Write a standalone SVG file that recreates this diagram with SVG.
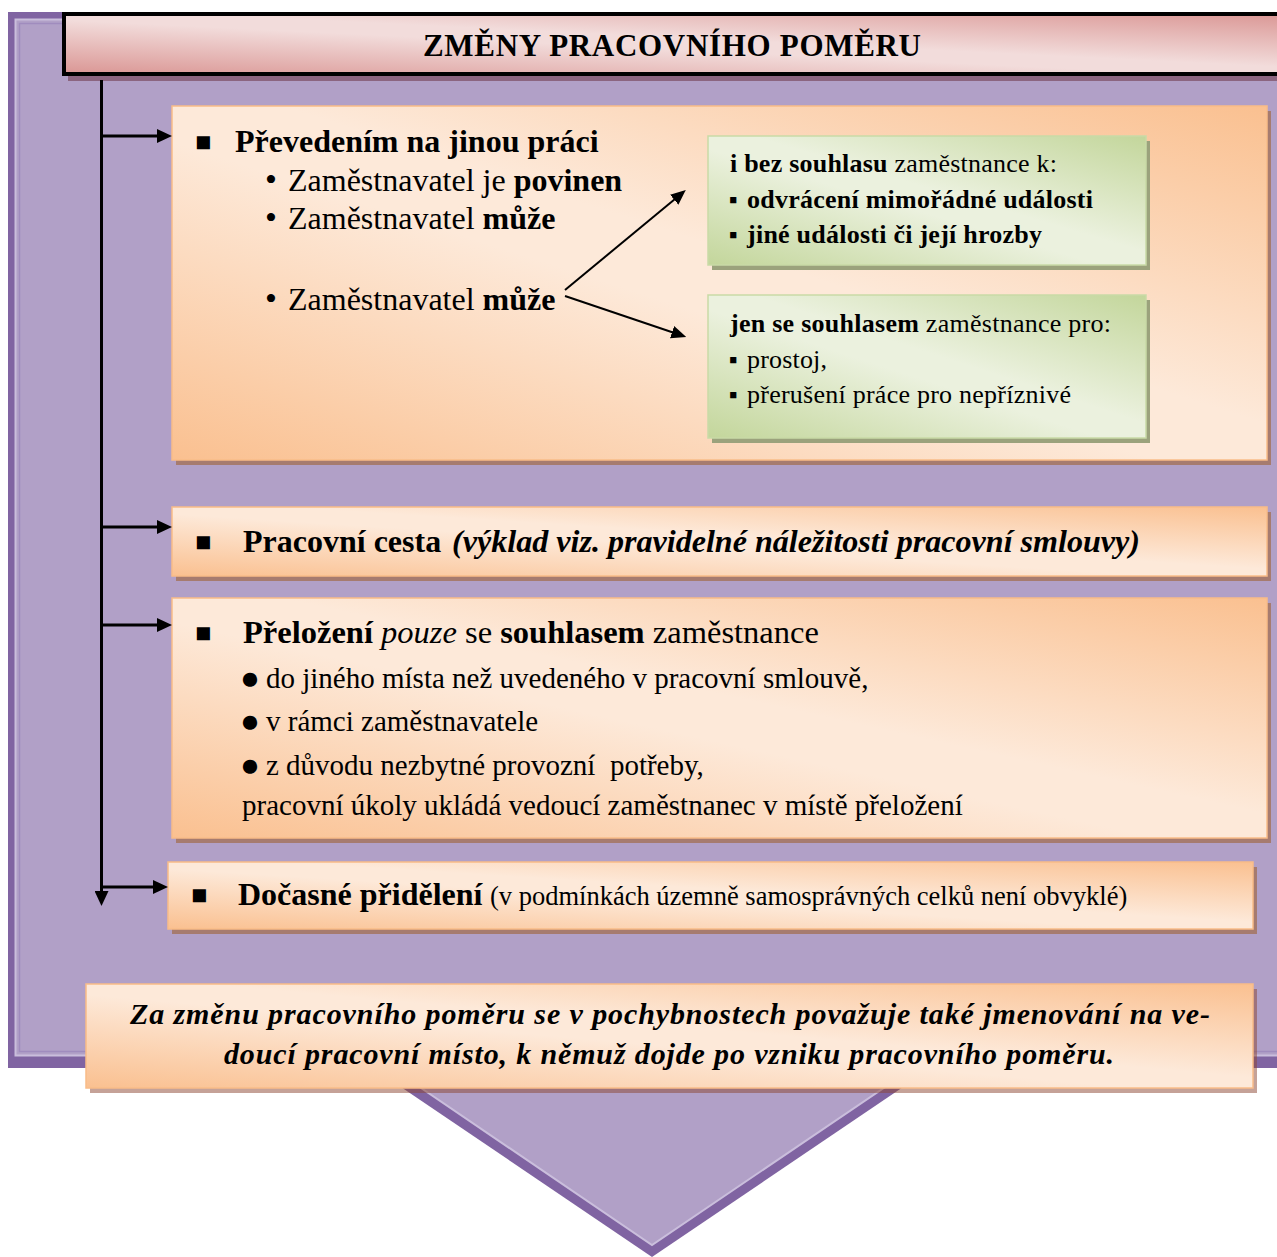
<svg xmlns="http://www.w3.org/2000/svg" width="1277" height="1257" viewBox="0 0 1277 1257">
<style>
.t{font-family:"Liberation Serif","Times New Roman",serif;fill:#000}
.b{font-weight:bold}
.i{font-style:italic}
.sq{font-family:"Liberation Serif","Times New Roman",serif;fill:#000;font-size:27px}
.sm{font-family:"Liberation Serif","Times New Roman",serif;fill:#000;font-size:25px}
.conn{stroke:#000;stroke-width:3;fill:none}
.diag{stroke:#000;stroke-width:2;fill:none}
.peach{fill:url(#gPeach);stroke:#F9BC88;stroke-width:1.5}
.psh{fill:#A67B6F}
.green{fill:url(#gGreen);stroke:#C9DAA6;stroke-width:1.5}
.gsh{fill:#9BA27C}
</style>
<defs>
<linearGradient id="gPeach" x1="0" y1="1" x2="1" y2="0">
<stop offset="0" stop-color="#FAC090"/><stop offset="0.45" stop-color="#FDE9D9"/><stop offset="0.55" stop-color="#FDE9D9"/><stop offset="1" stop-color="#FAC090"/>
</linearGradient>
<linearGradient id="gGreen" x1="0" y1="1" x2="1" y2="0">
<stop offset="0" stop-color="#C3D69B"/><stop offset="0.45" stop-color="#EBF1DE"/><stop offset="0.55" stop-color="#EBF1DE"/><stop offset="1" stop-color="#C3D69B"/>
</linearGradient>
<linearGradient id="gPink" x1="0" y1="1" x2="1" y2="0">
<stop offset="0" stop-color="#DA9694"/><stop offset="0.45" stop-color="#F2DCDB"/><stop offset="0.55" stop-color="#F2DCDB"/><stop offset="1" stop-color="#DA9694"/>
</linearGradient>
<marker id="ah" markerUnits="userSpaceOnUse" viewBox="0 0 15 14" refX="1" refY="7" markerWidth="15" markerHeight="14" orient="auto">
<path d="M0,0 L15,7 L0,14 z" fill="#000"/>
</marker>
<marker id="ah2" markerUnits="userSpaceOnUse" viewBox="0 0 15 13" refX="1" refY="6.5" markerWidth="15" markerHeight="13" orient="auto">
<path d="M0,0 L15,6.5 L0,13 z" fill="#000"/>
</marker>
</defs>

<g id="frame">
<rect x="8" y="12" width="1300" height="1056" fill="#8064A2"/>
<rect x="15.5" y="19.5" width="1300" height="1036" fill="#B1A0C7" stroke="#CABEDC" stroke-width="2"/>
<rect x="19.5" y="23.5" width="1300" height="1028" fill="none" stroke="#A08CBE" stroke-width="1.5"/>
</g>

<g id="down-triangle">
<polygon points="361,1060 943,1060 652,1257" fill="#8064A2"/>
<polygon points="380,1060 925,1060 652,1245" fill="#B1A0C7" stroke="#CABEDC" stroke-width="2"/>
</g>

<g id="header">
<rect x="68" y="20" width="1240" height="61" fill="#8B6580"/>
<rect x="64" y="14" width="1240" height="60" fill="url(#gPink)" stroke="#000" stroke-width="4"/>
<text class="t b" x="672" y="56" font-size="31" text-anchor="middle" textLength="498">ZMĚNY PRACOVNÍHO POMĚRU</text>
</g>

<g id="box-prevedeni">
<rect class="psh" x="176" y="111" width="1095" height="354"/>
<rect class="peach" x="172" y="106" width="1095" height="354"/>
<text class="sq" x="195" y="151">■</text>
<text class="t b" x="235" y="152" font-size="32">Převedením na jinou práci</text>
<text class="t" x="265" y="191" font-size="34">•</text>
<text class="t" x="288" y="191" font-size="32">Zaměstnavatel je <tspan class="b">povinen</tspan></text>
<text class="t" x="265" y="229" font-size="34">•</text>
<text class="t" x="288" y="229" font-size="32">Zaměstnavatel <tspan class="b">může</tspan></text>
<text class="t" x="265" y="310" font-size="34">•</text>
<text class="t" x="288" y="310" font-size="32">Zaměstnavatel <tspan class="b">může</tspan></text>
</g>

<g id="box-bez-souhlasu">
<rect class="gsh" x="712" y="141" width="438" height="129"/>
<rect class="green" x="708" y="136" width="438" height="129"/>
<text class="t" x="730" y="172" font-size="26" textLength="327"><tspan class="b">i bez souhlasu</tspan> zaměstnance k:</text>
<text class="sm" x="729" y="208">▪</text>
<text class="t b" x="747" y="208" font-size="26" textLength="346">odvrácení mimořádné události</text>
<text class="sm" x="729" y="243">▪</text>
<text class="t b" x="747" y="243" font-size="26" textLength="295">jiné události či její hrozby</text>
</g>

<g id="box-se-souhlasem">
<rect class="gsh" x="712" y="300" width="438" height="143"/>
<rect class="green" x="708" y="295" width="438" height="143"/>
<text class="t" x="730" y="332" font-size="26" textLength="381"><tspan class="b">jen se souhlasem</tspan> zaměstnance pro:</text>
<text class="sm" x="729" y="368">▪</text>
<text class="t" x="747" y="368" font-size="26" textLength="80">prostoj,</text>
<text class="sm" x="729" y="403">▪</text>
<text class="t" x="747" y="403" font-size="26" textLength="324">přerušení práce pro nepříznivé</text>
</g>

<g id="box-cesta">
<rect class="psh" x="176" y="512" width="1095" height="69"/>
<rect class="peach" x="172" y="507" width="1095" height="69"/>
<text class="sq" x="195" y="551">■</text>
<text class="t b" x="243" y="552" font-size="32">Pracovní cesta</text>
<text class="t b i" x="452" y="552" font-size="32" textLength="688" lengthAdjust="spacingAndGlyphs">(výklad viz. pravidelné náležitosti pracovní smlouvy)</text>
</g>

<g id="box-prelozeni">
<rect class="psh" x="176" y="603" width="1095" height="240"/>
<rect class="peach" x="172" y="598" width="1095" height="240"/>
<text class="sq" x="195" y="642">■</text>
<text class="t" x="243" y="643" font-size="32.5"><tspan class="b">Přeložení</tspan> <tspan class="i">pouze</tspan> se <tspan class="b">souhlasem</tspan> zaměstnance</text>
<text class="t" x="240" y="689" font-size="33">●</text>
<text class="t" x="266" y="688" font-size="29">do jiného místa než uvedeného v pracovní smlouvě,</text>
<text class="t" x="240" y="732" font-size="33">●</text>
<text class="t" x="266" y="731" font-size="29">v rámci zaměstnavatele</text>
<text class="t" x="240" y="776" font-size="33">●</text>
<text class="t" x="266" y="775" font-size="29" xml:space="preserve">z důvodu nezbytné provozní  potřeby,</text>
<text class="t" x="242" y="815" font-size="29">pracovní úkoly ukládá vedoucí zaměstnanec v místě přeložení</text>
</g>

<g id="box-pridel">
<rect class="psh" x="172" y="867" width="1085" height="67"/>
<rect class="peach" x="168" y="862" width="1085" height="67"/>
<text class="sq" x="191" y="904">■</text>
<text class="t b" x="238" y="905" font-size="32">Dočasné přidělení</text>
<text class="t" x="490" y="905" font-size="26.5">(v podmínkách územně samosprávných celků není obvyklé)</text>
</g>

<g id="box-poznamka">
<rect x="90" y="989" width="1167" height="104" fill="rgb(140,70,50)" fill-opacity="0.5"/>
<rect class="peach" x="86" y="984" width="1167" height="104"/>
<text class="t b i" x="670" y="1024" font-size="30" text-anchor="middle" textLength="1080">Za změnu pracovního poměru se v pochybnostech považuje také jmenování na ve-</text>
<text class="t b i" x="669" y="1064" font-size="30" text-anchor="middle" textLength="890">doucí pracovní místo, k němuž dojde po vzniku pracovního poměru.</text>
</g>

<g id="connectors">
<line class="conn" x1="101.5" y1="80" x2="101.5" y2="892" marker-end="url(#ah)"/>
<line class="conn" x1="101.5" y1="136" x2="158" y2="136" marker-end="url(#ah)"/>
<line class="conn" x1="101.5" y1="527" x2="158" y2="527" marker-end="url(#ah)"/>
<line class="conn" x1="101.5" y1="625" x2="158" y2="625" marker-end="url(#ah)"/>
<line class="conn" x1="101.5" y1="887" x2="154" y2="887" marker-end="url(#ah)"/>
<line class="diag" x1="565" y1="290" x2="675" y2="199" marker-end="url(#ah2)"/>
<line class="diag" x1="565" y1="296" x2="673" y2="332.5" marker-end="url(#ah2)"/>
</g>
</svg>
